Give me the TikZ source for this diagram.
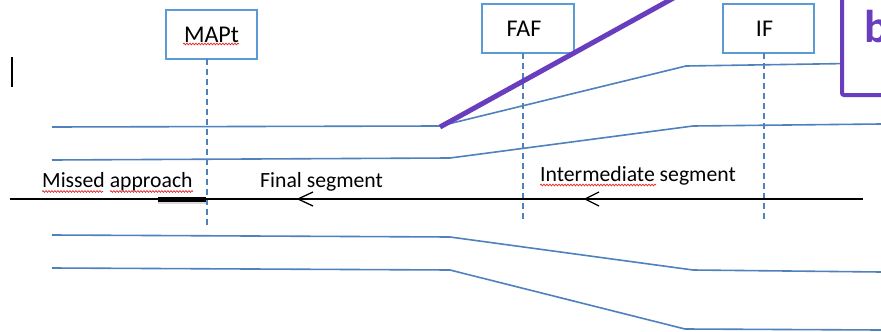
\documentclass[tikz,border=0pt]{standalone}
\usepackage{fontspec}
\setmainfont{Carlito}
\usetikzlibrary{decorations.pathmorphing}
\definecolor{lineblue}{RGB}{79,129,189}
\definecolor{boxblue}{RGB}{91,155,213}
\definecolor{violet2}{RGB}{104,62,190}
\definecolor{spellred}{RGB}{230,40,40}
\tikzset{
  fixbox/.style={draw=boxblue, line width=1.2pt, fill=white, minimum width=91pt, minimum height=49pt, inner sep=0pt, font=\fontsize{24}{28}\selectfont},
  bound/.style={draw=lineblue, line width=1.6pt},
  fixline/.style={draw=lineblue, line width=1.6pt, dash pattern=on 6pt off 4pt},
  lbl/.style={anchor=base west, inner sep=0pt, font=\fontsize{21.7}{26}\selectfont},
  wavy/.style={draw=spellred, line width=0.7pt, decorate, decoration={snake, amplitude=0.9pt, segment length=3pt}},
  barb/.style={draw=black, line width=1.3pt}
}
\begin{document}
\begin{tikzpicture}[x=1pt,y=-1pt]
\useasboundingbox (0,0) rectangle (881,332);
\clip (0,0) rectangle (881,332);
\fill[white] (0,0) rectangle (881,332);

% cursor
\draw[black, line width=1.3pt] (12,57) -- (12,87);

% boundary lines
\coordinate (a0) at (52,127); \coordinate (a1) at (440,126); \coordinate (a2) at (686,66); \coordinate (a3) at (881,63);
\coordinate (b0) at (52,160); \coordinate (b1) at (450,158); \coordinate (b2) at (693,126); \coordinate (b3) at (881,124);
\coordinate (c0) at (52,235); \coordinate (c1) at (450,237); \coordinate (c2) at (693,270); \coordinate (c3) at (881,272);
\coordinate (d0) at (52,268); \coordinate (d1) at (450,270); \coordinate (d2) at (685,329); \coordinate (d3) at (881,330);
\draw[bound] (a0) -- (a1) -- (a2) -- (a3);
\draw[bound] (b0) -- (b1) -- (b2) -- (b3);
\draw[bound] (c0) -- (c1) -- (c2) -- (c3);
\draw[bound] (d0) -- (d1) -- (d2) -- (d3);

% fix boxes
\node[fixbox] (mapt) at (211.5,34.5) {MAPt};
\node[fixbox, minimum width=92pt] (faf) at (528,28.5) {\hspace*{-8pt}FAF};
\node[fixbox] (if) at (768.5,28.5) {\hspace*{-8pt}IF};

% dashed fix lines
\coordinate (mapttop) at (207,59); \coordinate (maptbot) at (207,228);
\coordinate (faftop) at (523,53); \coordinate (fafbot) at (523,222);
\coordinate (iftop) at (764,53); \coordinate (ifbot) at (764,221);
\draw[fixline] (mapttop) -- (maptbot);
\draw[fixline] (faftop) -- (fafbot);
\draw[fixline] (iftop) -- (ifbot);

% axis
\coordinate (ax0) at (10,199); \coordinate (ax1) at (863,199);
\draw[black, line width=1.2pt] (ax0) -- (ax1);
% missed approach thick segment with shadow
\coordinate (ma0) at (158,199); \coordinate (ma1) at (206,199);
\draw[black!25, line width=5pt, opacity=0.6] ([yshift=-2.5pt]ma0) -- ([yshift=-2.5pt]ma1);
\draw[black, line width=5pt] (ma0) -- (ma1);
% arrow on final segment
\coordinate (fa) at (298,199);
\draw[barb] (313,192) -- (fa) -- (313,206);
% arrow on intermediate segment
\coordinate (ia) at (585,199); \coordinate (ie) at (692,199);
\draw[black, line width=2.4pt] (ia) -- (ie);
\draw[barb] (599,192) -- (ia) -- (599,206);

% labels
\node[lbl] (lma) at (42,187) {Missed approach};
\node[lbl] (lfs) at (260,187) {Final segment};
\node[lbl] (lis) at (540,181) {Intermediate segment};

% spell-check underlines
\draw[wavy] (42,191.5) -- (103,191.5);
\draw[wavy] (110,191.5) -- (193,191.5);
\draw[wavy] (183,44) -- (239,44);
\draw[wavy] (540,185) -- (656,185);

% purple line and box
\coordinate (p0) at (440,127); \coordinate (p1) at (688,-10);
\draw[violet2, line width=5pt] (p0) -- (p1);
\draw[violet2, line width=4pt, fill=white, rounded corners=2pt] (842,-20) rectangle (910,95);
\node[anchor=base west, inner sep=0pt, text=violet2, font=\fontsize{46}{50}\bfseries] (bb) at (864,42) {b};
\end{tikzpicture}
\end{document}
